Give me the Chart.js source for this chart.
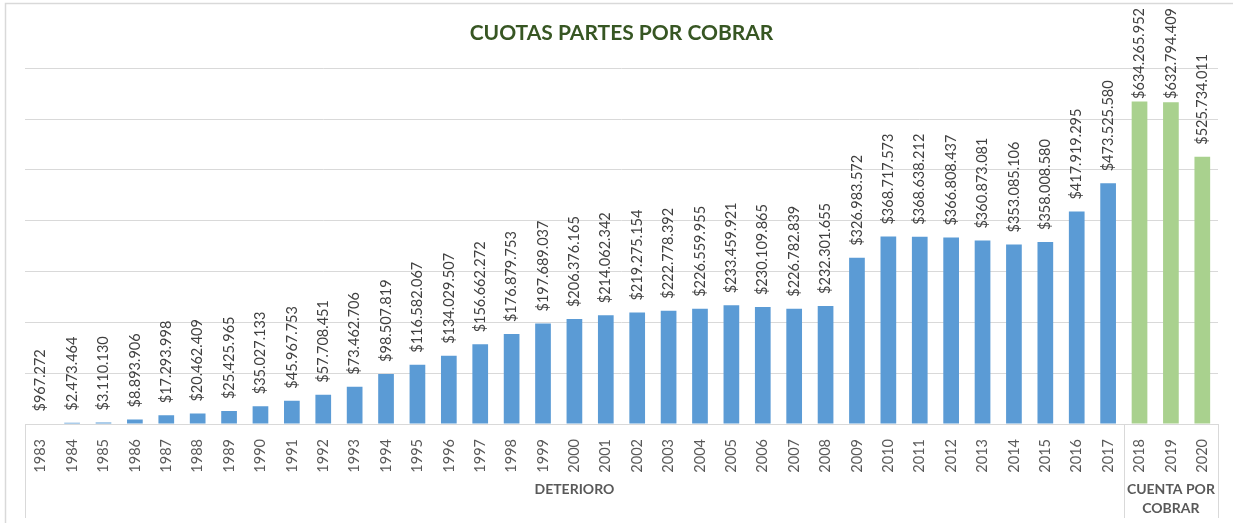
<!DOCTYPE html>
<html>
<head>
<meta charset="utf-8">
<script src="https://cdn.jsdelivr.net/npm/chart.js@4/dist/chart.umd.min.js"></script>
<style>
  html, body { margin: 0; padding: 0; background: #fff; }
  #wrap { width: 1233px; height: 523px; position: relative; }
</style>
</head>
<body>
<div id="wrap"><canvas id="chart_cuotasPartes"></canvas></div>
<script>
// datos
var years = [
  '1983', '1984', '1985', '1986', '1987', '1988', '1989', '1990', '1991', '1992',
  '1993', '1994', '1995', '1996', '1997', '1998', '1999', '2000', '2001', '2002',
  '2003', '2004', '2005', '2006', '2007', '2008', '2009', '2010', '2011', '2012',
  '2013', '2014', '2015', '2016', '2017', '2018', '2019', '2020'
];
var amounts = [
  967272, 2473464, 3110130, 8893906, 17293998, 20462409, 25425965, 35027133, 45967753, 57708451,
  73462706, 98507819, 116582067, 134029507, 156662272, 176879753, 197689037, 206376165, 214062342, 219275154,
  222778392, 226559955, 233459921, 230109865, 226782839, 232301655, 326983572, 368717573, 368638212, 366808437,
  360873081, 353085106, 358008580, 417919295, 473525580, 634265952, 632794409, 525734011
];
var groupNames = [['DETERIORO'], ['CUENTA POR', 'COBRAR']];
var groupSizes = [35, 3];
var groupColors = ['#5B9BD5', '#A9D18E'];
var yMax = 700000000;
var yStep = 100000000;

var barColors = [];
groupSizes.forEach(function (n, g) {
  for (var i = 0; i < n; i++) barColors.push(groupColors[g]);
});

function pesos(v) {
  return '$' + String(v).replace(/\B(?=(\d{3})+(?!\d))/g, '.');
}

var FONT = 'Lato, "Open Sans", sans-serif';

var chart_cuotasPartes = new Chart(document.getElementById('chart_cuotasPartes'), {
    type: 'bar',
    data: {
        labels: years,
        datasets: [
            {
                label: 'Cuotas partes',
                data: amounts,
                backgroundColor: barColors,
                borderWidth: 0,
                categoryPercentage: 1,
                barPercentage: 0.5
            }
        ]
    },
    options: {
        animation: false,
        responsive: true,
        maintainAspectRatio: false,
        layout: {
            padding: { left: 25, right: 15, top: 0, bottom: 0 }
        },
        plugins: {
            legend: { display: false },
            tooltip: { enabled: false },
            title: {
                display: true,
                text: 'CUOTAS PARTES POR COBRAR',
                color: '#375623',
                font: { family: FONT, size: 21, weight: 'bold', lineHeight: 1.2 },
                padding: { top: 21, bottom: 22 }
            }
        },
        scales: {
            x: {
                display: true,
                grid: { display: false },
                border: { display: true, color: '#d9d9d9', width: 1 },
                ticks: {
                    color: '#595959',
                    font: { family: FONT, size: 14.5 },
                    minRotation: 90,
                    maxRotation: 90,
                    autoSkip: false,
                    padding: 7
                },
                afterFit: function (scale) { scale.height = 99; }
            },
            y: {
                display: true,
                min: 0,
                max: yMax,
                ticks: { display: false, stepSize: yStep },
                border: { display: false },
                grid: { color: '#d9d9d9', lineWidth: 1, drawTicks: false }
            }
        }
    },
    plugins: [{
        id: 'customPlugin',
        beforeDraw: (chart) => {
            const ctx = chart.ctx;
            ctx.save();
            ctx.fillStyle = 'white';
            ctx.fillRect(0, 0, chart.width, chart.height);
            ctx.strokeStyle = '#d9d9d9';
            ctx.lineWidth = 1.5;
            ctx.strokeRect(5.5, 3.5, chart.width + 20, chart.height + 20);
            ctx.restore();
        },
        afterDatasetsDraw: (chart) => {
            const ctx = chart.ctx;
            const meta = chart.getDatasetMeta(0);
            ctx.save();
            ctx.font = '14.5px ' + FONT;
            ctx.fillStyle = '#404040';
            ctx.textAlign = 'left';
            ctx.textBaseline = 'middle';
            meta.data.forEach(function (bar, i) {
                const txt = pesos(amounts[i]);
                const w = ctx.measureText(txt).width;
                let start = bar.y - 12;
                if (start - w < 8) start = 8 + w;
                ctx.save();
                ctx.translate(bar.x, start);
                ctx.rotate(-Math.PI / 2);
                ctx.fillText(txt, 0, 0);
                ctx.restore();
            });
            ctx.restore();
        },
        afterDraw: (chart) => {
            const ctx = chart.ctx;
            const x = chart.scales.x;
            const half = (x.getPixelForValue(1) - x.getPixelForValue(0)) / 2;
            const top = chart.chartArea.bottom;
            ctx.save();
            ctx.strokeStyle = '#d9d9d9';
            ctx.lineWidth = 1;
            ctx.fillStyle = '#595959';
            ctx.font = 'bold 14px ' + FONT;
            ctx.textAlign = 'center';
            ctx.textBaseline = 'middle';
            let idx = 0;
            const edges = [x.getPixelForValue(0) - half];
            groupSizes.forEach(function (n, g) {
                const left = x.getPixelForValue(idx) - half;
                const right = x.getPixelForValue(idx + n - 1) + half;
                edges.push(right);
                const cx = (left + right) / 2;
                groupNames[g].forEach(function (line, k) {
                    ctx.fillText(line, cx, 489 + k * 19);
                });
                idx += n;
            });
            edges.forEach(function (ex) {
                const px = Math.round(ex) + 0.5;
                ctx.beginPath();
                ctx.moveTo(px, top);
                ctx.lineTo(px, 518);
                ctx.stroke();
            });
            ctx.restore();
        }
    }]
});
</script>
</body>
</html>
